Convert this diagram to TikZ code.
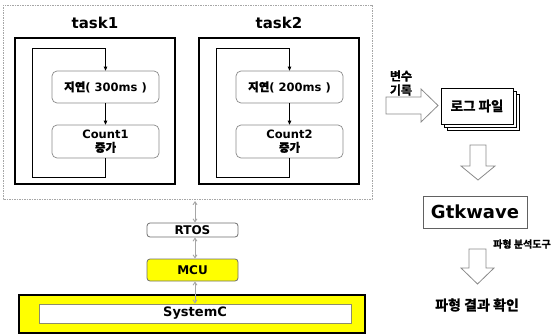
\documentclass[tikz,border=0pt]{standalone}
\usepackage{fontspec}
\setmainfont{DejaVu Sans}
\newfontfamily\kr{Noto Sans CJK KR Bold}[FakeBold=1.2]
\usetikzlibrary{arrows.meta}

\definecolor{edgegray}{HTML}{8A8A8A}
\definecolor{linkgray}{HTML}{A6A6A6}
\definecolor{hwyellow}{HTML}{FFFF00}
\definecolor{innerline}{HTML}{8C8C6E}

\tikzset{
  tasktitle/.style={font=\bfseries\fontsize{15}{15}\selectfont, inner sep=0pt},
  taskframe/.style={draw=black, line width=2.3pt, minimum width=160pt, minimum height=146pt, inner sep=0pt},
  procbox/.style={draw=edgegray, line width=0.7pt, rounded corners=5pt, fill=white,
    minimum width=107pt, minimum height=32pt, inner sep=0pt, align=center,
    font=\bfseries\fontsize{11.5}{13}\selectfont},
  loopline/.style={draw=black, line width=1pt, -{Triangle[length=4pt,width=3.5pt]}},
  layerbox/.style={draw=edgegray!80!black, line width=0.8pt, rounded corners=3pt,
    minimum width=91pt, inner sep=0pt, font=\bfseries\fontsize{12}{12}\selectfont},
  link/.style={draw=linkgray, line width=0.9pt, {Straight Barb[length=3pt,width=4pt]}-{Straight Barb[length=3pt,width=4pt]}},
  blockarrow/.style={draw=edgegray, line width=0.8pt, fill=white, line join=miter},
  krlabel/.style={font=\kr\fontsize{13}{15}\selectfont, inner sep=0pt, align=center},
}

\begin{document}
\begin{tikzpicture}[x=1pt, y=-1pt]
\useasboundingbox (0,0) rectangle (556,334);

% software side: dotted frame round the two tasks
\draw[draw=linkgray, line width=0.8pt, dash pattern=on 1.5pt off 1pt] (3,5) rectangle (372,199);

% ---- task1 ----
\node[tasktitle] (title1) at (95,23) {task1};
\node[taskframe] (task1) at (95,111) {};
\node[procbox] (d1) at (105.5,87) {{\kr 지연}( 300ms )};
\node[procbox, minimum height=33pt] (c1) at (105.5,141.5) {Count1\\{\kr 증가}};
\coordinate (l1b) at (32,177);
\coordinate (l1t) at (32,49);
\draw[loopline] (d1) -- (c1);
\draw[loopline] (c1.south) |- (l1b) -- (l1t) -| (d1.north);

% ---- task2 ----
\node[tasktitle] (title2) at (279,23) {task2};
\node[taskframe] (task2) at (279,111) {};
\node[procbox] (d2) at (289.5,87) {{\kr 지연}( 200ms )};
\node[procbox, minimum height=33pt] (c2) at (289.5,141.5) {Count2\\{\kr 증가}};
\coordinate (l2b) at (216,177);
\coordinate (l2t) at (216,49);
\draw[loopline] (d2) -- (c2);
\draw[loopline] (c2.south) |- (l2b) -- (l2t) -| (d2.north);

% ---- RTOS / MCU / SystemC stack ----
\node[layerbox, fill=white, minimum height=14pt] (rtos) at (192.5,230) {RTOS};
\node[layerbox, fill=hwyellow, minimum height=22pt] (mcu) at (192.5,270) {MCU};
\node[draw=black, line width=1.6pt, fill=hwyellow, minimum width=346pt, minimum height=38pt, inner sep=0pt] (sysc) at (192,314) {};
\node[draw=innerline, line width=0.9pt, fill=white, minimum width=312pt, minimum height=19pt, inner sep=0pt,
      font=\bfseries\fontsize{13}{13}\selectfont] (syscin) at (195,313.5) {SystemC};

\coordinate (swlink) at (195,201);
\draw[link] (swlink) -- (rtos.north -| swlink);
\draw[link] (rtos.south -| swlink) -- (mcu.north -| swlink);
\draw[link] (mcu.south -| swlink) -- (syscin.north -| swlink);

% ---- logging and waveform flow ----
\node[krlabel, font=\kr\fontsize{12}{14}\selectfont] (rec) at (401,83) {변수\\기록};
\draw[blockarrow] (386,97) -- (421,97) -- (421,89) -- (438,105.5) -- (421,122) -- (421,114) -- (386,114) -- cycle;

\node[draw=black, line width=0.7pt, fill=white, minimum width=72pt, minimum height=36pt] (log3) at (483,112) {};
\node[draw=black, line width=0.7pt, fill=white, minimum width=72pt, minimum height=36pt] (log2) at (480,109) {};
\node[draw=black, line width=0.7pt, fill=white, minimum width=72pt, minimum height=36pt,
      krlabel, font=\kr\fontsize{13.5}{15}\selectfont] (log) at (477,106) {로그 파일};

\draw[blockarrow] (470,145) -- (486,145) -- (486,166) -- (495,166) -- (478,180) -- (461,166) -- (470,166) -- cycle;

\node[draw=edgegray!70!black, line width=0.8pt, minimum width=104pt, minimum height=32pt, inner sep=0pt,
      font=\bfseries\fontsize{18}{18}\selectfont] (gtk) at (475,212) {Gtkwave};
\node[krlabel, font=\kr\fontsize{10}{10}\selectfont, anchor=west] (tool) at (493,244) {파형 분석도구};

\draw[blockarrow] (469,249) -- (486,249) -- (486,268) -- (494,268) -- (477.5,284) -- (461,268) -- (469,268) -- cycle;

\node[krlabel, font=\kr\fontsize{14}{14}\selectfont] (result) at (477,305) {파형 결과 확인};
\end{tikzpicture}
\end{document}
